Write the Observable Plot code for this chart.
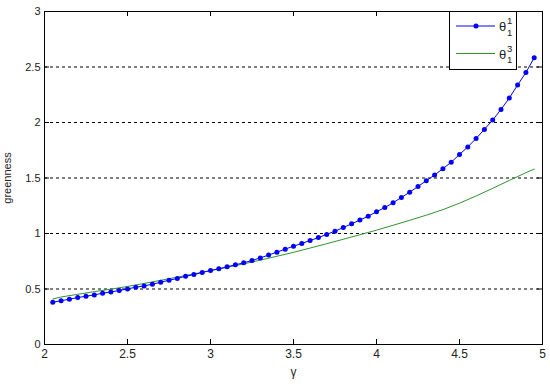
<!DOCTYPE html>
<html><head><meta charset="utf-8">
<script src="https://cdn.jsdelivr.net/npm/d3@7"></script>
<script src="https://cdn.jsdelivr.net/npm/@observablehq/plot@0.6"></script>
<style>
body{margin:0;background:#fff;}
#wrap{position:relative;width:550px;height:386px;}
#legend{position:absolute;left:449px;top:11px;}
</style></head><body><div id="wrap"></div>
<script>
// Series θ1^1 (blue, with markers)
const blueX = [2.05,2.10,2.15,2.20,2.25,2.30,2.35,2.40,2.45,2.50,2.55,2.60,2.65,2.70,2.75,2.80,2.85,2.90,2.95,3.00,
  3.05,3.10,3.15,3.20,3.25,3.30,3.35,3.40,3.45,3.50,3.55,3.60,3.65,3.70,3.75,3.80,3.85,3.90,3.95,4.00,
  4.05,4.10,4.15,4.20,4.25,4.30,4.35,4.40,4.45,4.50,4.55,4.60,4.65,4.70,4.75,4.80,4.85,4.90,4.95];
const blueY = [0.381,0.394,0.408,0.423,0.435,0.447,0.462,0.474,0.486,0.501,0.516,0.528,0.543,0.561,0.579,0.595,0.615,0.630,0.649,0.667,
  0.682,0.700,0.718,0.736,0.757,0.780,0.806,0.832,0.859,0.886,0.910,0.937,0.963,0.992,1.021,1.054,1.087,1.121,1.156,1.196,
  1.234,1.277,1.325,1.372,1.424,1.475,1.527,1.584,1.642,1.712,1.780,1.856,1.938,2.022,2.118,2.220,2.338,2.450,2.583];
// Series θ1^3 (green line)
const greenX = [2.05,2.10,2.20,2.30,2.40,2.50,2.60,2.70,2.80,2.90,3.00,3.10,3.20,3.30,3.40,3.50,3.60,3.70,3.80,3.90,4.00,4.10,4.20,4.30,4.40,4.50,4.60,4.70,4.80,4.90,4.95];
const greenY = [0.410,0.428,0.452,0.476,0.499,0.523,0.550,0.578,0.607,0.636,0.665,0.695,0.726,0.760,0.795,0.830,0.869,0.908,0.948,0.989,1.030,1.074,1.119,1.165,1.215,1.273,1.338,1.407,1.478,1.548,1.580];
const xTicks = [2,2.5,3,3.5,4,4.5,5];
const yTicks = [0,0.5,1,1.5,2,2.5,3];
const gridY = [0.5,1,1.5,2,2.5];
const seriesBase = ["θ","θ"];
const seriesSup = ["1","3"];
const seriesSub = ["1","1"];
const seriesColor = ["#0000ff","#2f932f"];
const xLabel = "γ";
const yLabel = "greenness";

const blue = blueX.map((x,i)=>({x, y: blueY[i]}));
const green = greenX.map((x,i)=>({x, y: greenY[i]}));
const innerW = 550-44-8, innerH = 386-11-42, tl = 5;

const chart = Plot.plot({
  width: 550, height: 386,
  marginLeft: 44, marginRight: 8, marginTop: 11, marginBottom: 42,
  style: {fontFamily: "'Liberation Sans', Arial, sans-serif", fontSize: "12px", color: "#222", background: "#fff"},
  x: {domain: [2,5]},
  y: {domain: [0,3]},
  marks: [
    Plot.ruleY(gridY, {stroke: "#000", strokeDasharray: "3,3", strokeWidth: 1}),
    Plot.tickX(xTicks, {x: d=>d, insetTop: innerH-tl, stroke: "#000"}),
    Plot.tickX(xTicks, {x: d=>d, insetBottom: innerH-tl, stroke: "#000"}),
    Plot.tickY(yTicks, {y: d=>d, insetRight: innerW-tl, stroke: "#000"}),
    Plot.tickY(yTicks, {y: d=>d, insetLeft: innerW-tl, stroke: "#000"}),
    Plot.axisX({ticks: xTicks, tickSize: 0, tickPadding: 5, tickFormat: d=>String(d), label: xLabel, labelAnchor: "center", labelArrow: "none", labelOffset: 31}),
    Plot.axisY({ticks: yTicks, tickSize: 0, tickPadding: 4, tickFormat: d=>String(d), label: yLabel, labelAnchor: "center", labelArrow: "none", labelOffset: 41, fontSize: 11}),
    Plot.line(green, {x: "x", y: "y", stroke: seriesColor[1], strokeWidth: 1}),
    Plot.line(blue, {x: "x", y: "y", stroke: seriesColor[0], strokeWidth: 1}),
    Plot.dot(blue, {x: "x", y: "y", fill: seriesColor[0], r: 2.5, stroke: "none"}),
    Plot.frame({stroke: "#000", strokeWidth: 1})
  ]
});
const wrap = document.getElementById("wrap");
wrap.appendChild(chart);

// Legend overlay
const lw = 68, lh = 59;
const leg = d3.create("svg").attr("id","legend").attr("width", lw).attr("height", lh)
  .style("position","absolute").style("left","449px").style("top","11px")
  .style("font-family","'Liberation Sans', Arial, sans-serif");
leg.append("rect").attr("x",0.5).attr("y",0.5).attr("width",lw-1).attr("height",lh-1).attr("fill","#fff").attr("stroke","#000");
seriesBase.forEach((b,i)=>{
  const yy = 15 + i*27.5;
  leg.append("line").attr("x1",7).attr("x2",46).attr("y1",yy).attr("y2",yy).attr("stroke",seriesColor[i]).attr("stroke-width",1.2);
  if (i===0) leg.append("circle").attr("cx",27).attr("cy",yy).attr("r",2.5).attr("fill",seriesColor[i]);
  leg.append("text").attr("x",50).attr("y",yy+5).attr("font-size",13).attr("fill","#222").text(b);
  leg.append("text").attr("x",58).attr("y",yy-2).attr("font-size",9.5).attr("fill","#222").text(seriesSup[i]);
  leg.append("text").attr("x",58).attr("y",yy+9.5).attr("font-size",9.5).attr("fill","#222").text(seriesSub[i]);
});
wrap.appendChild(leg.node());
</script></body></html>
